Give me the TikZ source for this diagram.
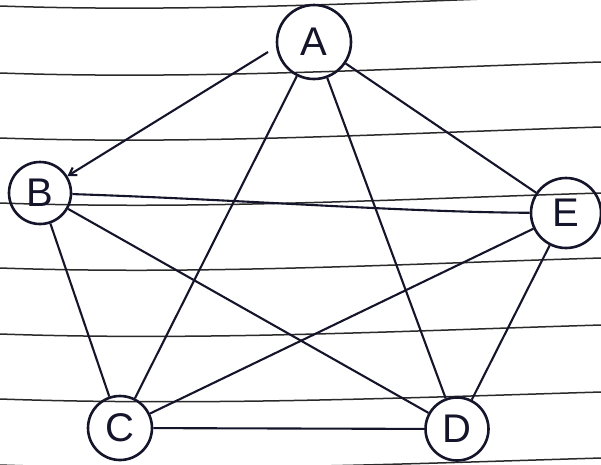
\documentclass[tikz,border=0pt]{standalone}
\usepackage{fontspec}
\setmainfont{Liberation Sans}
\usetikzlibrary{arrows.meta}
\definecolor{ink}{HTML}{14142A}
\definecolor{rule}{HTML}{2A2A2A}
\begin{document}
\begin{tikzpicture}[x=1pt,y=-1pt,
  vert/.style={circle,draw=ink,line width=2.6pt,inner sep=0pt,font=\fontsize{40}{40}\selectfont,text=ink},
  edge/.style={draw=ink,line width=2.1pt},
  paperline/.style={draw=rule,line width=1.5pt}]
\useasboundingbox (0,0) rectangle (601,464);
\fill[white] (0,0) rectangle (601,464);
% ruled paper lines (slightly sagging)
\foreach \yl/\yr in {6/-5,73/62,138/127,203/193,268/258,334/325,399/392,465/458}{
  \draw[paperline] (0,\yl) .. controls (200,\yl+7) and (400,\yr+6) .. (601,\yr);
}
% vertices
\node[vert,minimum size=74pt] (A) at (314,42) {A};
\node[vert,minimum size=62pt] (B) at (40,193) {B};
\node[vert,minimum size=64pt] (C) at (120,428) {C};
\node[vert,minimum size=63pt] (D) at (457,429) {D};
\node[vert,minimum size=70pt] (E) at (566,213) {E};
% free start of the A--B arrow
\coordinate (ab) at (268,52);
% edges
\draw[edge,-{Straight Barb[length=7pt,width=9pt]}] (ab) -- (B);
\draw[edge] (A) -- (E);
\draw[edge] (A) -- (C);
\draw[edge] (A) -- (D);
\draw[edge] (B) .. controls (250,200) and (400,212) .. (E);
\draw[edge] (B) -- (D);
\draw[edge] (B) -- (C);
\draw[edge] (C) -- (E);
\draw[edge] (C) -- (D);
\draw[edge] (D) -- (E);
\end{tikzpicture}
\end{document}
